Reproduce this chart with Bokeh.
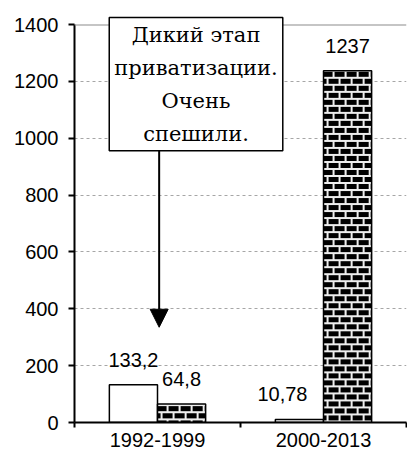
import numpy as np
from bokeh.core.properties import value
from bokeh.embed import file_html
from bokeh.models import (Arrow, ColumnDataSource, FixedTicker, NormalHead,
                          Range1d, Span)
from bokeh.plotting import figure
from bokeh.resources import INLINE

# ---- data ----
categories = ["1992-1999", "2000-2013"]
series_white = [133.2, 10.78]
series_brick = [64.8, 1237]
labels_white = ["133,2", "10,78"]
labels_brick = ["64,8", "1237"]
y_ticks = [0, 200, 400, 600, 800, 1000, 1200, 1400]
note_text = "Дикий этап\nприватизации.\nОчень\nспешили."

# ---- layout / style ----
W, H = 407, 461
B_LEFT, B_RIGHT, B_TOP, B_BOTTOM = 74, 1, 24, 39
Y_MAX = 1400
bar_w = 0.29
white_label_nudge = [0, -17]   # px, keeps "10,78" clear of the neighbouring bar
frame_w = W - B_LEFT - B_RIGHT
frame_h = H - B_TOP - B_BOTTOM


def brick_image(val):
    """RGBA brick texture sized to the bar's pixel footprint."""
    wpx = max(1, int(round(bar_w * frame_w / len(categories))))
    hpx = max(1, int(round(val * frame_h / Y_MAX)))
    rows_from_top = np.arange(hpx)[:, None]
    cols = np.arange(wpx)[None, :]
    course = rows_from_top // 7
    in_course = rows_from_top % 7
    shift = np.where(course % 2 == 0, 3, 9)
    mortar = (in_course < 2) | (((cols + shift) % 12) < 2)
    rgba = np.where(mortar, np.uint32(0xFFEEEEEE), np.uint32(0xFF000000))
    return np.ascontiguousarray(rgba[::-1, :].astype(np.uint32))


idx = np.arange(len(categories)) + 0.5
src = ColumnDataSource(dict(
    xw=idx - bar_w / 2, xb=idx + bar_w / 2,
    white=series_white, brick=series_brick,
    lw=labels_white, lb=labels_brick, nudge=white_label_nudge,
))
img_src = ColumnDataSource(dict(
    image=[brick_image(v) for v in series_brick],
    x=list(idx), y=[0] * len(series_brick),
    dw=[bar_w] * len(series_brick), dh=series_brick,
))

p = figure(width=W, height=H, x_range=Range1d(0, len(categories)),
           y_range=Range1d(0, Y_MAX), output_backend="svg", toolbar_location=None,
           min_border_left=B_LEFT, min_border_right=B_RIGHT, min_border_top=B_TOP,
           min_border_bottom=B_BOTTOM)
p.outline_line_color = None
p.background_fill_color = "white"
p.border_fill_color = "white"

p.xgrid.visible = False
p.ygrid.ticker = FixedTicker(ticks=y_ticks)
p.ygrid.grid_line_color = "#a6a6a6"
p.ygrid.grid_line_dash = "3 3"
p.ygrid.grid_line_width = 1.2
p.add_layout(Span(location=Y_MAX, dimension="width", line_color="#8c8c8c",
                  line_width=2))

p.vbar(x="xw", top="white", width=bar_w, source=src, fill_color="white",
       line_color="black", line_width=1.5)
p.image_rgba(image="image", x="x", y="y", dw="dw", dh="dh", source=img_src)
p.vbar(x="xb", top="brick", width=bar_w, source=src, fill_color=None,
       line_color="black", line_width=1.5)

font = value("Liberation Sans")
p.text(x="xw", y="white", text="lw", source=src, text_align="center",
       text_baseline="alphabetic", x_offset="nudge", y_offset=-25, text_font=font,
       text_font_size="20px", text_color="black")
p.text(x="xb", y="brick", text="lb", source=src, text_align="center",
       text_baseline="alphabetic", y_offset=-25, text_font=font,
       text_font_size="20px", text_color="black")

ya = p.yaxis[0]
ya.ticker = FixedTicker(ticks=y_ticks)
ya.axis_line_width = 2
ya.major_tick_line_width = 2
ya.major_tick_out = 6
ya.major_tick_in = 0
ya.minor_tick_line_color = None
ya.major_label_standoff = 10
ya.major_label_text_font = "Liberation Sans"
ya.major_label_text_font_size = "20px"
ya.major_label_text_color = "black"

xa = p.xaxis[0]
xa.ticker = FixedTicker(ticks=list(idx), minor_ticks=list(range(len(categories) + 1)))
xa.major_label_overrides = {float(v): c for v, c in zip(idx, categories)}
xa.axis_line_width = 2
xa.major_tick_line_color = None
xa.major_tick_out = 0
xa.major_tick_in = 0
xa.minor_tick_line_width = 2
xa.minor_tick_out = 5
xa.minor_tick_in = 0
xa.major_label_standoff = 5
xa.major_label_text_font = "Liberation Sans"
xa.major_label_text_font_size = "20px"
xa.major_label_text_color = "black"

p.add_layout(Arrow(x_start=0.51, y_start=964, x_end=0.51, y_end=335,
                   line_width=2, line_color="black",
                   end=NormalHead(size=18, fill_color="black", line_color="black")))

note_src = ColumnDataSource(dict(x=[0.732], y=[Y_MAX], t=[note_text]))
p.text(x="x", y="y", text="t", source=note_src, y_offset=-7,
       anchor="top_center", text_align="center",
       text_font=value("DejaVu Serif"), text_font_size="21px",
       text_line_height=1.38, text_color="black",
       background_fill_color="white", border_line_color="black",
       border_line_width=1.5, padding=5, level="overlay")

open("out.html", "w").write(file_html(p, INLINE))
